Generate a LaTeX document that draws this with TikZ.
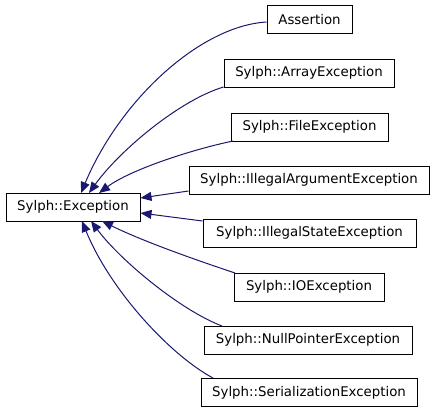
\documentclass[tikz,border=0pt]{standalone}
\usepackage{fontspec}
\setmainfont{DejaVu Sans}
\usetikzlibrary{arrows.meta}
\definecolor{edgeblue}{HTML}{191970}
\begin{document}
\begin{tikzpicture}[x=1pt,y=-1pt,
  cls/.style={draw=black,line width=1pt,fill=white,minimum height=28pt,inner sep=0pt,
    font=\fontsize{13.33}{16}\selectfont},
  inh/.style={draw=edgeblue,line width=1pt,-{Triangle[length=11pt,width=9pt]}}]
\useasboundingbox (0,0) rectangle (435,413);
\fill[white] (0,0) rectangle (435,413);
\node[cls,minimum width=134pt] (base) at (73,207) {Sylph::Exception};
\node[cls,minimum width=85pt] (a) at (309.5,19.5) {Assertion};
\node[cls,minimum width=170pt] (b) at (309,73) {Sylph::ArrayException};
\node[cls,minimum width=157pt] (c) at (309.5,127) {Sylph::FileException};
\node[cls,minimum width=240pt] (d) at (309,180) {Sylph::IllegalArgumentException};
\node[cls,minimum width=213pt] (e) at (309.5,233) {Sylph::IllegalStateException};
\node[cls,minimum width=150pt] (f) at (309,287) {Sylph::IOException};
\node[cls,minimum width=208pt] (g) at (308,340) {Sylph::NullPointerException};
\node[cls,minimum width=216pt] (h) at (309,392.5) {Sylph::SerializationException};
\coordinate (ta) at (81,193);
\coordinate (tb) at (89,193);
\coordinate (tc) at (99,193);
\coordinate (td) at (140.5,198);
\coordinate (te) at (140.5,213);
\coordinate (tf) at (102,221);
\coordinate (tg) at (91,221);
\coordinate (th) at (82,221);
\draw[inh] (a.west|-0,22) .. controls (200,26) and (120,100) .. (ta);
\draw[inh] (b.west|-0,87) .. controls (180,100) and (120,150) .. (tb);
\draw[inh] (233,141) .. controls (190,150) and (130,170) .. (tc);
\draw[inh] (d.west|-0,191) -- (td);
\draw[inh] (e.west|-0,221) -- (te);
\draw[inh] (235,273) .. controls (190,258) and (140,240) .. (tf);
\draw[inh] (222,326) .. controls (180,310) and (120,260) .. (tg);
\draw[inh] (213,378) .. controls (170,355) and (110,290) .. (th);
\end{tikzpicture}
\end{document}
